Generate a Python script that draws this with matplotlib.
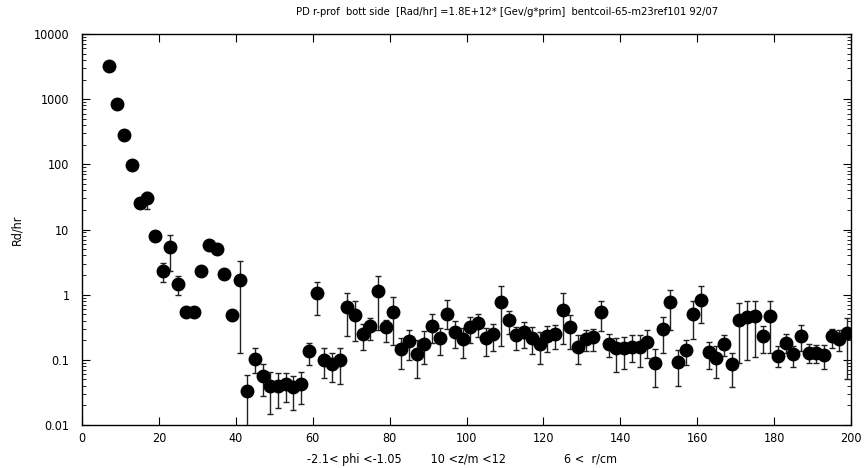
import numpy as np
import matplotlib
matplotlib.use("Agg")
import matplotlib.pyplot as plt
from matplotlib.ticker import LogLocator, FixedLocator, NullFormatter

# r bins: 2 cm wide, 6 < r < 200
r_edges = np.arange(6, 201, 2)
r = 0.5 * (r_edges[:-1] + r_edges[1:])

# dose rate per bin (Rd/hr)
dose = [3250, 830, 285, 98, 25.7, 30, 7.9, 2.30, 5.35, 1.47,
        0.55, 0.55, 2.3, 5.86, 4.99, 2.07, 0.48, 1.68, 0.033, 0.102,
        0.0566, 0.040, 0.040, 0.0433, 0.0377, 0.0433, 0.136, 1.05, 0.10, 0.085,
        0.098, 0.64, 0.495, 0.245, 0.328, 1.12, 0.317, 0.537, 0.145, 0.194,
        0.124, 0.177, 0.328, 0.213, 0.51, 0.266, 0.206, 0.317, 0.37, 0.213,
        0.245, 0.77, 0.405, 0.237, 0.266, 0.218, 0.177, 0.231, 0.245, 0.59,
        0.317, 0.159, 0.208, 0.223, 0.537, 0.177, 0.15, 0.153, 0.159, 0.159,
        0.187, 0.0885, 0.30, 0.77, 0.093, 0.141, 0.51, 0.84, 0.131, 0.108,
        0.172, 0.085, 0.405, 0.45, 0.466, 0.23, 0.466, 0.114, 0.179, 0.121,
        0.23, 0.129, 0.126, 0.117, 0.23, 0.206, 0.26]

# lower / upper ends of the error bars
dose_lo = [3050, 780, 265, 91, 23.5, 20.6, 6.9, 1.56, 2.27, 1.0,
           0.51, 0.51, 2.15, 5.5, 4.7, 1.95, 0.45, 0.129, 0.005, 0.062,
           0.028, 0.015, 0.018, 0.0222, 0.0171, 0.021, 0.083, 0.48, 0.053, 0.046,
           0.042, 0.23, 0.194, 0.14, 0.20, 0.29, 0.187, 0.168, 0.073, 0.10,
           0.052, 0.085, 0.183, 0.12, 0.30, 0.153, 0.105, 0.18, 0.223, 0.114,
           0.136, 0.163, 0.245, 0.141, 0.153, 0.121, 0.085, 0.131, 0.145, 0.177,
           0.145, 0.0875, 0.136, 0.136, 0.275, 0.112, 0.066, 0.073, 0.0925, 0.0787,
           0.105, 0.0385, 0.126, 0.29, 0.040, 0.082, 0.21, 0.37, 0.073, 0.053,
           0.114, 0.0377, 0.0885, 0.10, 0.110, 0.128, 0.126, 0.079, 0.126, 0.079,
           0.136, 0.0903, 0.09, 0.073, 0.153, 0.136, 0.05]
dose_hi = [3450, 880, 305, 105, 28, 38, 8.9, 3.05, 8.2, 1.95,
           0.59, 0.59, 2.45, 6.2, 5.3, 2.2, 0.51, 3.3, 0.0586, 0.15,
           0.085, 0.064, 0.062, 0.062, 0.0566, 0.065, 0.183, 1.58, 0.15, 0.126,
           0.153, 1.05, 0.81, 0.36, 0.44, 1.95, 0.41, 0.91, 0.218, 0.285,
           0.20, 0.275, 0.51, 0.31, 0.84, 0.39, 0.31, 0.45, 0.51, 0.31,
           0.36, 1.37, 0.57, 0.32, 0.378, 0.317, 0.266, 0.33, 0.348, 1.05,
           0.48, 0.237, 0.29, 0.30, 0.79, 0.245, 0.218, 0.226, 0.237, 0.237,
           0.285, 0.145, 0.45, 1.19, 0.141, 0.205, 0.81, 1.34, 0.19, 0.163,
           0.237, 0.128, 0.746, 0.81, 0.81, 0.33, 0.81, 0.163, 0.245, 0.163,
           0.337, 0.177, 0.166, 0.166, 0.30, 0.285, 0.445]

title = "PD r-prof  bott side  [Rad/hr] =1.8E+12* [Gev/g*prim]  bentcoil-65-m23ref101 92/07"
cuts = "-2.1< phi <-1.05        10 <z/m <12                6 <  r/cm"

plt.rcParams['font.family'] = ['DejaVu Sans']
plt.rcParams['font.stretch'] = 'condensed'

fig = plt.figure(figsize=(8.65, 4.68), dpi=100)
ax = fig.add_axes([82/865, 1-425/468, (851-82)/865, (425-34)/468])

dose = np.array(dose)
yerr = [dose - np.array(dose_lo), np.array(dose_hi) - dose]
ax.errorbar(r, dose, yerr=yerr, fmt='o', color='black', ecolor='#222222',
            markersize=9, elinewidth=1, capsize=2.5, capthick=1)

ax.set_yscale('log')
ax.set_xlim(0, 200)
ax.set_ylim(0.01, 10000)

ax.xaxis.set_major_locator(FixedLocator(np.arange(0, 201, 20)))
ax.yaxis.set_minor_locator(LogLocator(base=10, subs=np.arange(2, 10), numticks=10))
ax.yaxis.set_minor_formatter(NullFormatter())
ax.set_yticks([0.01, 0.1, 1, 10, 100, 1000, 10000])
ax.set_yticklabels(['0.01', '0.1', '1', '10', '100', '1000', '10000'])

ax.tick_params(which='both', direction='in', top=True, right=True, labelsize=9, colors='black')
ax.tick_params(which='major', length=6, width=0.8)
ax.tick_params(which='minor', length=3, width=0.6)
ax.tick_params(axis='y', pad=9)
ax.tick_params(axis='x', pad=5)
for s in ax.spines.values():
    s.set_linewidth(1)

fig.text(462/865, 1-459/468, cuts, fontsize=9, ha='center', va='center')
fig.text(17/865, 1-230/468, 'Rd/hr', fontsize=9, rotation=90, ha='center', va='center')
fig.text(507/865, 1-12/468, title, fontsize=8, ha='center', va='center')

fig.savefig('out.png', dpi=100)
